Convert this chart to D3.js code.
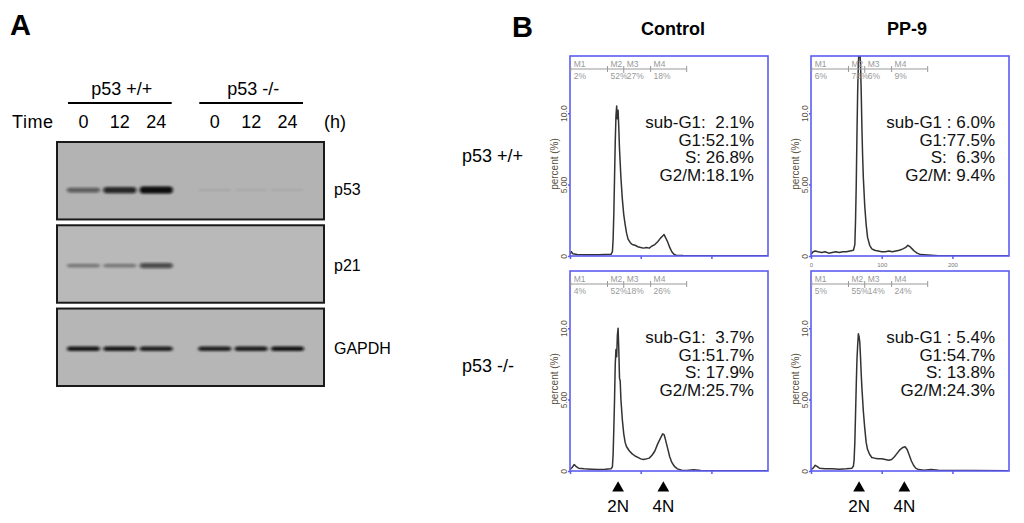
<!DOCTYPE html>
<html><head><meta charset="utf-8">
<script src="https://cdn.jsdelivr.net/npm/d3@7/dist/d3.min.js"></script>
<style>
body{margin:0;background:#fff;}
svg{display:block;font-family:"Liberation Sans",Arial,sans-serif;}
</style></head><body>
<svg id="c" width="1024" height="523"></svg>
<script>
// ---------- Panel A data ----------
const groups = ["p53 +/+", "p53 -/-"];
const times = ["0", "12", "24"];
const blots = ["p53", "p21", "GAPDH"];
const p53Band = [0.55, 0.85, 1.0, 0.07, 0.06, 0.06];
const p21Band = [0.35, 0.35, 0.65, 0.0, 0.0, 0.0];
const gapdhBand = [0.95, 0.95, 0.9, 0.9, 0.92, 0.97];

// ---------- Panel B data ----------
const columns = ["Control", "PP-9"];
const rowsB = ["p53 +/+", "p53 -/-"];
const gateNames = ["M1", "M2", "M3", "M4"];
const gateEdges = [1, 53, 76, 114, 165];
const yTicks = [0, 5, 10];
const yTickLabels = ["0", "5.00", "10.0"];
const xTicks = [0, 100, 200];

const ctlWtHist = [[0,0.15],[2,0.3],[4,0.15],[10,0.1],[20,0.08],[30,0.08],[40,0.08],[50,0.1],[58,0.12],[60,0.3],[61,1.2],[62,3],[63,5.5],[64,8],[65,9.8],[66,10.5],[67,9.6],[68,10.2],[69,9],[70,7.5],[72,5.5],[74,4],[76,2.9],[78,2.2],[80,1.6],[82,1.2],[85,0.95],[88,0.8],[92,0.75],[96,0.65],[100,0.6],[104,0.55],[108,0.6],[112,0.55],[116,0.7],[120,0.8],[124,1.0],[128,1.25],[131,1.4],[133,1.5],[135,1.3],[138,1.0],[141,0.6],[144,0.3],[147,0.12],[150,0.05],[160,0.03],[280,0.02]];
const pp9WtHist = [[0,0.1],[3,0.3],[6,0.35],[10,0.3],[15,0.25],[20,0.3],[25,0.2],[30,0.25],[35,0.3],[40,0.25],[45,0.3],[50,0.3],[55,0.35],[60,0.4],[62,0.8],[63,2.5],[64,5],[65,8.5],[66,11.5],[67,13.5],[68,14.5],[69,14.5],[70,13.5],[71,11.5],[72,9],[73,7],[74,5.5],[76,3.5],[78,2.2],[80,1.3],[83,0.75],[86,0.5],[90,0.4],[95,0.35],[100,0.3],[105,0.3],[110,0.35],[115,0.3],[120,0.35],[125,0.4],[130,0.5],[134,0.6],[137,0.75],[140,0.65],[143,0.5],[146,0.35],[150,0.2],[155,0.1],[160,0.08],[170,0.05],[180,0.02],[280,0.02]];
const ctlKoHist = [[0,0.1],[3,0.25],[6,0.45],[9,0.3],[12,0.2],[20,0.15],[30,0.12],[40,0.1],[50,0.12],[58,0.15],[60,0.3],[61,1.2],[62,3],[63,5],[64,7.5],[65,8.5],[66,8],[67,9.5],[68,10],[69,8.5],[70,6.5],[71,6.3],[72,5],[74,3.6],[76,2.6],[78,2.0],[80,1.7],[84,1.4],[88,1.2],[92,1.05],[96,0.95],[100,0.85],[104,0.8],[108,0.85],[112,0.9],[116,1.1],[120,1.4],[124,1.9],[128,2.3],[131,2.6],[133,2.55],[135,2.2],[138,1.6],[141,1.0],[144,0.6],[148,0.3],[152,0.15],[158,0.05],[165,0.03],[175,0.08],[185,0.03],[280,0.02]];
const pp9KoHist = [[0,0.1],[3,0.2],[6,0.4],[9,0.3],[12,0.2],[20,0.15],[30,0.15],[40,0.12],[50,0.15],[58,0.2],[60,0.35],[61,0.8],[62,2],[63,4],[64,6],[65,7.8],[66,8.8],[67,9.6],[68,9.4],[69,9],[70,8],[71,6.8],[72,5.8],[74,4.2],[76,3.0],[78,2.0],[80,1.5],[83,1.15],[86,0.95],[90,0.9],[95,0.85],[100,0.85],[105,0.8],[110,0.75],[114,0.8],[118,1.0],[122,1.25],[126,1.5],[130,1.65],[133,1.7],[136,1.5],[139,1.1],[142,0.7],[145,0.4],[148,0.2],[152,0.1],[160,0.05],[170,0.1],[180,0.05],[280,0.02]];

const ctlWtGate = ["2%", "52%", "27%", "18%"];
const pp9WtGate = ["6%", "78%", "6%", "9%"];
const ctlKoGate = ["4%", "52%", "18%", "26%"];
const pp9KoGate = ["5%", "55%", "14%", "24%"];

const ctlWtStats = ["sub-G1:  2.1%", "G1:52.1%", "S: 26.8%", "G2/M:18.1%"];
const pp9WtStats = ["sub-G1 : 6.0%", "G1:77.5%", "S:  6.3%", "G2/M: 9.4%"];
const ctlKoStats = ["sub-G1:  3.7%", "G1:51.7%", "S: 17.9%", "G2/M:25.7%"];
const pp9KoStats = ["sub-G1 : 5.4%", "G1:54.7%", "S: 13.8%", "G2/M:24.3%"];

const ploidyLabels = ["2N", "4N"];
const ploidyPos = [68, 132];

// ---------- drawing ----------
const svg = d3.select("#c");
const defs = svg.append("defs");
defs.append("filter").attr("id", "blur").attr("x", "-30%").attr("y", "-100%").attr("width", "160%").attr("height", "300%")
  .append("feGaussianBlur").attr("stdDeviation", "1.4 0.9");

// Panel A
svg.append("text").attr("x", 10).attr("y", 35).attr("font-size", 29).attr("font-weight", "bold").text("A");

const gx = d3.scaleBand().domain(groups).range([68, 303]).paddingInner(0.21);
const tx = d3.scaleBand().domain(times).range([0, gx.bandwidth()]).paddingInner(0.15);
const lanes = [];
groups.forEach(g => times.forEach(t => lanes.push({g, t})));
const laneX = l => gx(l.g) + tx(l.t);

groups.forEach(g => {
  svg.append("text").attr("x", gx(g) + gx.bandwidth() / 2 + 2).attr("y", 95).attr("text-anchor", "middle")
    .attr("font-size", 18).text(g);
  svg.append("line").attr("x1", gx(g)).attr("x2", gx(g) + gx.bandwidth()).attr("y1", 103).attr("y2", 103)
    .attr("stroke", "#000").attr("stroke-width", 2);
});
svg.append("text").attr("x", 12).attr("y", 128).attr("font-size", 18).attr("letter-spacing", 0.6).text("Time");
lanes.forEach(l => {
  svg.append("text").attr("x", laneX(l) + tx.bandwidth() / 2).attr("y", 128).attr("text-anchor", "middle")
    .attr("font-size", 18).text(l.t);
});
svg.append("text").attr("x", 324).attr("y", 128).attr("font-size", 18).text("(h)");

const by = d3.scaleBand().domain(blots).range([142, 386]).paddingInner(0.07);
const blotData = {p53: p53Band, p21: p21Band, GAPDH: gapdhBand};
const blotFill = {p53: "#b3b3b3", p21: "#b9b9b9", GAPDH: "#b6b6b6"};
const bandFrac = {p53: 0.62, p21: 0.52, GAPDH: 0.52};
blots.forEach(b => {
  const y0 = by(b), h = by.bandwidth();
  svg.append("rect").attr("x", 57).attr("y", y0).attr("width", 267).attr("height", h)
    .attr("fill", blotFill[b]).attr("stroke", "#1a1a1a").attr("stroke-width", 2);
  const gb = svg.append("g").attr("filter", "url(#blur)");
  blotData[b].forEach((v, i) => {
    if (v <= 0) return;
    const l = lanes[i];
    const bh = b === "GAPDH" ? 4.5 : 2 + 5 * v;
    gb.append("rect").attr("x", laneX(l) - 1).attr("width", tx.bandwidth() + 2)
      .attr("y", y0 + h * bandFrac[b] - bh / 2).attr("height", bh).attr("rx", 3)
      .attr("fill", "#0d0d0d").attr("opacity", Math.min(1, v));
  });
  svg.append("text").attr("x", 334).attr("y", y0 + h * bandFrac[b] + 5).attr("font-size", 16).text(b);
});

// Panel B
svg.append("text").attr("x", 512).attr("y", 37).attr("font-size", 29).attr("font-weight", "bold").text("B");
const colX = [570, 811];
const rowY = [56, 271];
const W = 198, H = 200;
const headShift = [4, -3];
columns.forEach((c, i) => {
  svg.append("text").attr("x", colX[i] + W / 2 + headShift[i]).attr("y", 35).attr("text-anchor", "middle")
    .attr("font-size", 18).attr("font-weight", "bold").text(c);
});
rowsB.forEach((r, j) => {
  svg.append("text").attr("x", 462).attr("y", [162, 372][j]).attr("font-size", 18).text(r);
});

const panels = [
  {c: 0, r: 0, hist: ctlWtHist, gate: ctlWtGate, stats: ctlWtStats},
  {c: 1, r: 0, hist: pp9WtHist, gate: pp9WtGate, stats: pp9WtStats},
  {c: 0, r: 1, hist: ctlKoHist, gate: ctlKoGate, stats: ctlKoStats},
  {c: 1, r: 1, hist: pp9KoHist, gate: pp9KoGate, stats: pp9KoStats}
];

panels.forEach((p, k) => {
  const x0 = colX[p.c], y0 = rowY[p.r];
  const x = d3.scaleLinear().domain([0, 280]).range([x0, x0 + W]);
  const y = d3.scaleLinear().domain([0, 14]).range([y0 + H, y0]);
  const g = svg.append("g");
  const cid = "clip" + k;
  defs.append("clipPath").attr("id", cid).append("rect").attr("x", x0).attr("y", y0).attr("width", W).attr("height", H);

  // histogram
  g.append("path").datum(p.hist)
    .attr("d", d3.line().x(d => x(d[0])).y(d => y(d[1])))
    .attr("fill", "none").attr("stroke", "#333").attr("stroke-width", 1.5).attr("stroke-linejoin", "round")
    .attr("clip-path", `url(#${cid})`);

  // box
  g.append("rect").attr("x", x0).attr("y", y0).attr("width", W).attr("height", H)
    .attr("fill", "none").attr("stroke", "#5c5cf2").attr("stroke-width", 1.6);

  // axes
  const ax = g.append("g").attr("transform", `translate(0,${y0 + H})`)
    .call(d3.axisBottom(x).tickValues(xTicks).tickSize(3).tickFormat(p.r === 0 && p.c === 1 ? d3.format("d") : ""));
  ax.select(".domain").remove();
  ax.selectAll("line").attr("stroke", "#5c5cf2").attr("stroke-width", 1.5);
  ax.selectAll("text").attr("font-size", 6).attr("fill", "#777").attr("dy", "0.9em");

  const ay = g.append("g").attr("transform", `translate(${x0},0)`)
    .call(d3.axisLeft(y).tickValues(yTicks).tickSize(2).tickFormat((d, i) => yTickLabels[i]));
  ay.select(".domain").remove();
  ay.selectAll("line").attr("stroke", "#5c5cf2").attr("stroke-width", 1.5);
  ay.selectAll("text").attr("font-size", 8.5).attr("fill", "#5a5040")
    .attr("x", -3).attr("y", 0).attr("dy", 0).attr("text-anchor", "middle")
    .attr("transform", "rotate(-90,-3,0)");

  g.append("text").attr("transform", `translate(${x0 - 12},${y0 + 108}) rotate(-90)`)
    .attr("text-anchor", "middle").attr("font-size", 10).attr("fill", "#5a5040").text("percent (%)");

  // gates
  const gy = y0 + 13;
  g.append("line").attr("x1", x(gateEdges[0])).attr("x2", x(gateEdges[4])).attr("y1", gy).attr("y2", gy)
    .attr("stroke", "#999").attr("stroke-width", 1);
  gateEdges.forEach((e, i) => {
    g.append("line").attr("x1", x(e)).attr("x2", x(e)).attr("y1", gy - 3).attr("y2", gy + (i === 2 ? 4 : 3))
      .attr("stroke", "#999").attr("stroke-width", 1);
  });
  gateNames.forEach((n, i) => {
    g.append("text").attr("x", x(gateEdges[i]) + 3).attr("y", gy - 2).attr("font-size", 8.5).attr("fill", "#999").text(n);
    g.append("text").attr("x", x(gateEdges[i]) + 3).attr("y", gy + 10).attr("font-size", 8.5).attr("fill", "#999").text(p.gate[i]);
  });

  // stats
  p.stats.forEach((s, i) => {
    g.append("text").attr("x", x0 + W - 14).attr("y", y0 + 72 + i * 17.5).attr("text-anchor", "end")
      .attr("font-size", 17).attr("fill", "#111").style("white-space", "pre").text(s);
  });

  // ploidy markers below bottom row
  if (p.r === 1) {
    ploidyPos.forEach((v, i) => {
      g.append("path").attr("d", d3.symbol(d3.symbolTriangle, 60)())
        .attr("transform", `translate(${x(v)},${y0 + H + 17})`).attr("fill", "#000");
      g.append("text").attr("x", x(v)).attr("y", y0 + H + 41).attr("text-anchor", "middle")
        .attr("font-size", 17).text(ploidyLabels[i]);
    });
  }
});
</script>
</body></html>
